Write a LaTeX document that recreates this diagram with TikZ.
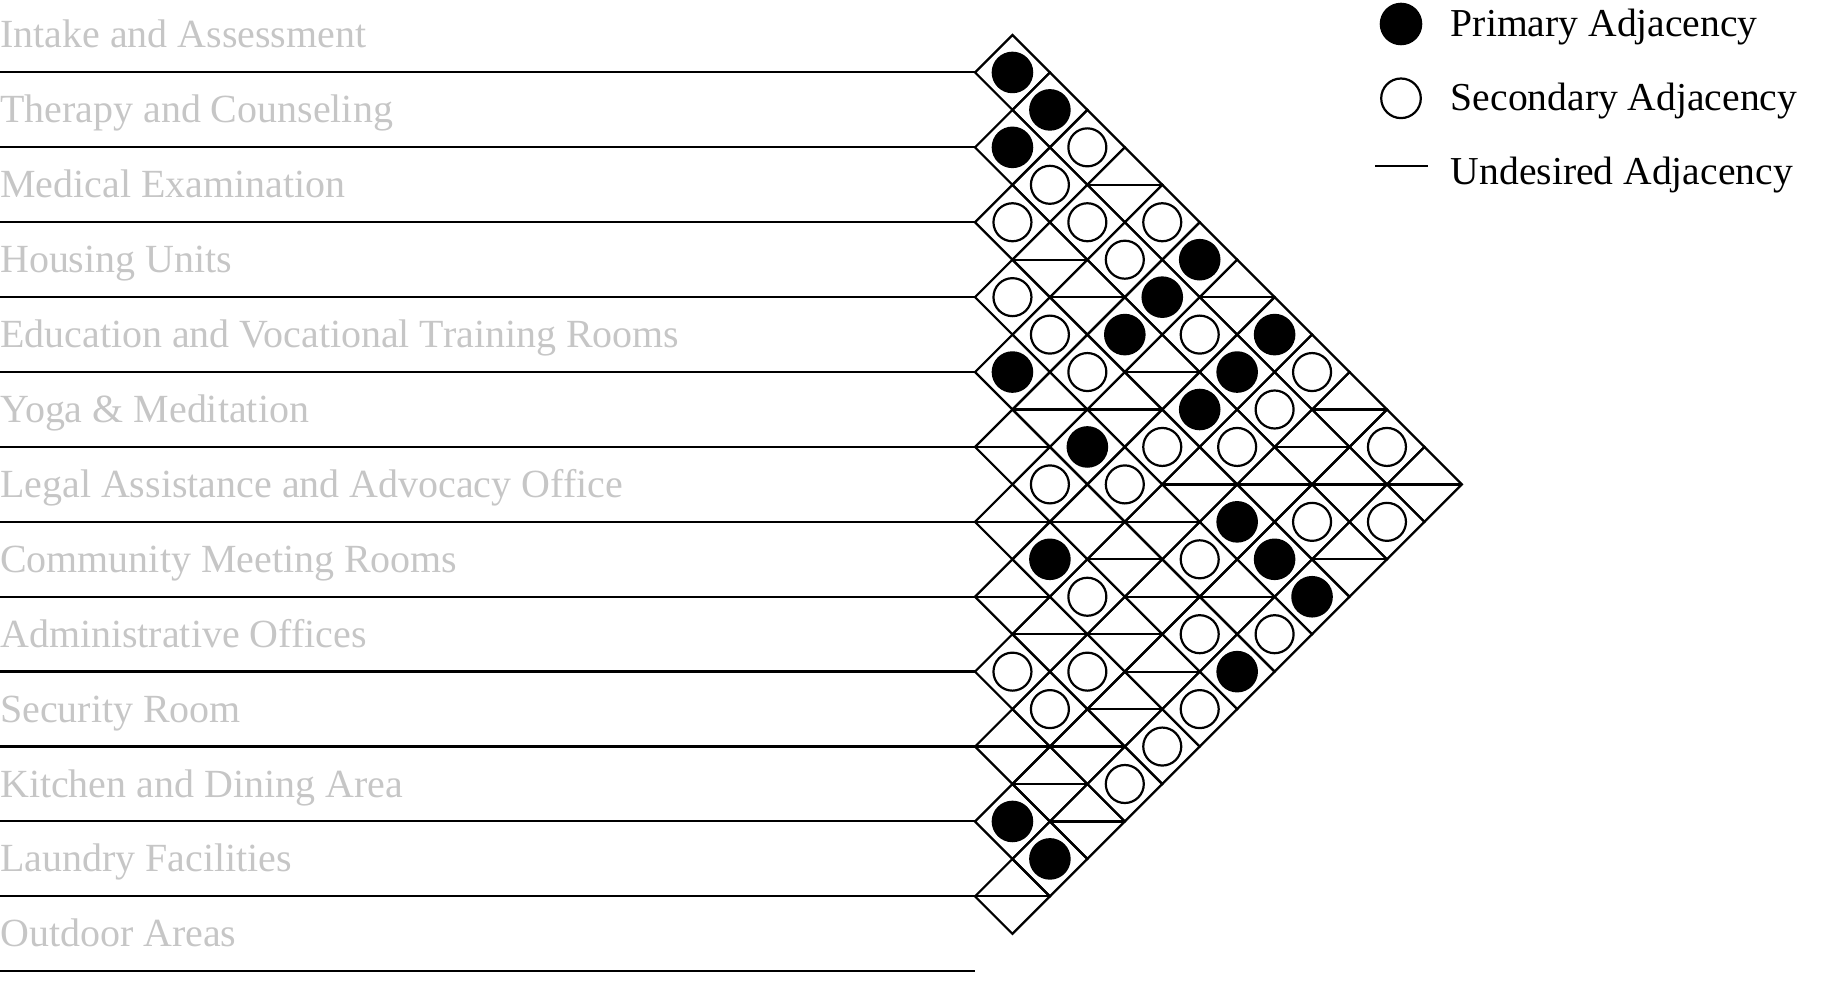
\documentclass[tikz,border=0pt]{standalone}
\usepackage{fontspec}
\setmainfont{Liberation Serif}
\definecolor{labelgray}{RGB}{198,198,198}
\tikzset{
  lbl/.style={anchor=base west, inner sep=0pt, text=labelgray, font=\fontsize{39.95}{47}\selectfont},
  legtxt/.style={anchor=base west, inner sep=0pt, text=black, font=\fontsize{39.6}{47}\selectfont},
  rule/.style={line width=2.2pt},
  cellline/.style={line width=2.2pt, line join=miter},
  primarydot/.style={fill=black},
  secondarydot/.style={draw=black, line width=2.2pt, fill=white}
}
\begin{document}
\begin{tikzpicture}[x=1pt,y=-1pt]
\useasboundingbox (0,0) rectangle (1835,995);
\def\u{37.45}
% row labels and row rules
\foreach \t [count=\k from 0] in {Intake and Assessment, Therapy and Counseling, Medical Examination, Housing Units, Education and Vocational Training Rooms, Yoga \& Meditation, Legal Assistance and Advocacy Office, Community Meeting Rooms, Administrative Offices, Security Room, Kitchen and Dining Area, Laundry Facilities, Outdoor Areas}{
  \node[lbl] (row\k) at (0,48+74.9*\k) {\t};
  \coordinate (rs\k) at (0,72.3+74.9*\k);
  \coordinate (re\k) at (975,72.3+74.9*\k);
  \draw[rule] (rs\k) -- (re\k);
}
% grid of diamond cells
\foreach \i in {0,...,11}{
  \pgfmathtruncatemacro\ja{\i+1}
  \foreach \j in {\ja,...,12}{
    \pgfmathsetmacro\cx{975+\u*(\j-\i)}
    \pgfmathsetmacro\cy{35+\u*(\i+\j)}
    \draw[cellline] (\cx-\u,\cy) -- (\cx,\cy-\u) -- (\cx+\u,\cy) -- (\cx,\cy+\u) -- cycle;
  }
}
% undesired adjacency
\foreach \i/\j in {0/4,0/7,0/10,0/12,1/10,1/11,2/4,2/5,2/7,2/10,2/12,3/7,3/9,4/6,4/9,4/11,5/6,5/8,5/9,5/10,6/7,6/10,6/11,7/8,7/9,7/11,8/11,9/10,9/11,9/12,11/12}{
  \pgfmathsetmacro\cx{975+\u*(\j-\i)}
  \pgfmathsetmacro\cy{35+\u*(\i+\j)}
  \draw[cellline] (\cx-\u,\cy) -- (\cx+\u,\cy);
}
% secondary adjacency
\foreach \i/\j in {0/3,0/5,0/9,0/11,1/3,1/4,1/5,1/7,1/9,1/12,2/3,2/9,2/11,3/4,3/5,3/6,3/8,4/8,4/10,4/12,5/7,5/11,6/9,6/12,7/10,7/12,8/9,8/10,8/12}{
  \pgfmathsetmacro\cx{975+\u*(\j-\i)}
  \pgfmathsetmacro\cy{35+\u*(\i+\j)}
  \draw[secondarydot] (\cx,\cy) circle (19);
}
% primary adjacency
\foreach \i/\j in {0/1,0/2,0/6,0/8,1/2,1/6,1/8,2/6,2/8,3/10,3/11,3/12,4/5,4/7,5/12,6/8,10/11,10/12}{
  \pgfmathsetmacro\cx{975+\u*(\j-\i)}
  \pgfmathsetmacro\cy{35+\u*(\i+\j)}
  \fill[primarydot] (\cx,\cy) circle (20.8);
}
% legend
\fill[primarydot] (1401,24) circle (21.3);
\draw[secondarydot] (1401,98.3) circle (19.8);
\coordinate (lga) at (1375,166);
\coordinate (lgb) at (1428,166);
\draw[rule] (lga) -- (lgb);
\node[legtxt] (legP) at (1450.7,36.7) {Primary Adjacency};
\node[legtxt] (legS) at (1450.7,110.5) {Secondary Adjacency};
\node[legtxt] (legU) at (1450.7,185) {Undesired Adjacency};
\end{tikzpicture}
\end{document}
